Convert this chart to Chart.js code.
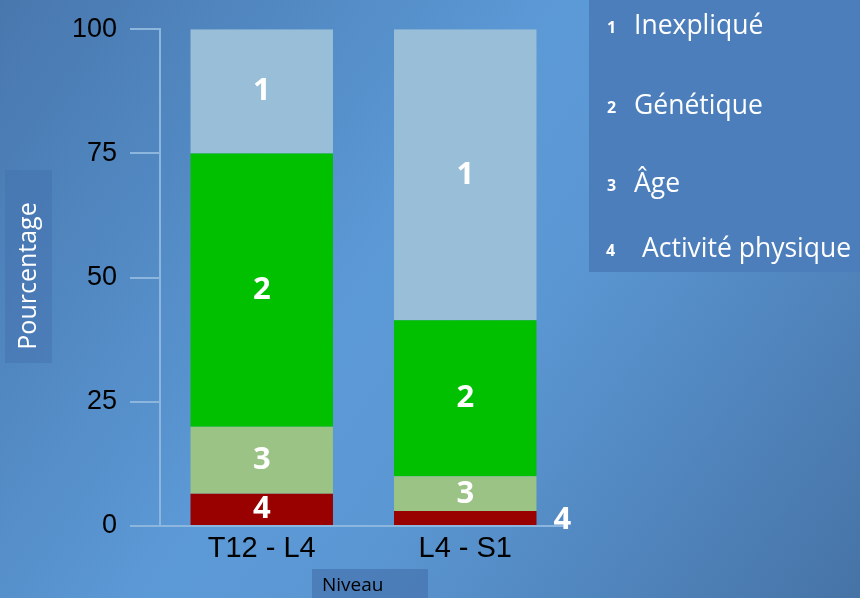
<!DOCTYPE html>
<html>
<head>
<meta charset="utf-8">
<script src="https://cdn.jsdelivr.net/npm/chart.js@4"></script>
<style>
html,body{margin:0;padding:0;background:#5a94cf;}
#wrap{width:860px;height:598px;position:relative;}
</style>
</head>
<body>
<div id="wrap"><canvas id="c" width="860" height="598"></canvas></div>
<script>
const categories = ['T12 - L4', 'L4 - S1'];
const seriesNames = ['Inexpliqué', 'Génétique', 'Âge', 'Activité physique'];
const seriesNumbers = ['1', '2', '3', '4'];
const inexplique = [25, 58.6];
const genetique = [55, 31.4];
const age = [13.5, 7];
const activite = [6.5, 3];
const yTicks = [0, 25, 50, 75, 100];
const xTitle = 'Niveau';
const yTitle = 'Pourcentage';

const axisColor = '#8cb6de';

const bgPlugin = {
  id: 'bg',
  beforeDraw(chart) {
    const ctx = chart.ctx;
    const g = ctx.createLinearGradient(0, 0, 860, 598);
    g.addColorStop(0, '#4877ad');
    g.addColorStop(0.45, '#5c9ad7');
    g.addColorStop(0.6, '#5a96d2');
    g.addColorStop(1, '#4673a6');
    ctx.save();
    ctx.fillStyle = g;
    ctx.fillRect(0, 0, chart.width, chart.height);
    ctx.fillStyle = 'rgba(70,115,175,0.55)';
    ctx.fillRect(5, 170, 47, 193);
    ctx.fillStyle = 'rgba(70,115,175,0.7)';
    ctx.fillRect(312, 569, 116, 29);
    ctx.fillStyle = '#4c7ebc';
    ctx.fillRect(589, 0, 271, 272);
    ctx.restore();
  },
  afterDraw(chart) {
    const ctx = chart.ctx;
    ctx.save();
    ctx.fillStyle = '#ffffff';
    ctx.font = '25px "Open Sans"';
    ctx.textAlign = 'center';
    ctx.textBaseline = 'middle';
    ctx.translate(29, 276);
    ctx.rotate(-Math.PI / 2);
    ctx.fillText(yTitle, 0, 0);
    ctx.restore();
    ctx.save();
    ctx.fillStyle = '#000000';
    ctx.font = '19px "Open Sans"';
    ctx.textAlign = 'left';
    ctx.textBaseline = 'middle';
    ctx.fillText(xTitle, 322, 586);
    const numX = [607, 607, 607, 606];
    const txtX = [634, 634, 634, 642];
    const ys = [26, 106, 184, 249];
    for (let i = 0; i < seriesNames.length; i++) {
      ctx.fillStyle = '#ffffff';
      ctx.font = 'bold 16px "Open Sans"';
      ctx.textAlign = 'left';
      ctx.textBaseline = 'middle';
      ctx.fillText(seriesNumbers[i], numX[i], ys[i] + 2);
      ctx.font = '26.5px "Open Sans"';
      ctx.fillText(seriesNames[i], txtX[i], ys[i]);
    }
    ctx.restore();
  },
  afterDatasetsDraw(chart) {
    const ctx = chart.ctx;
    ctx.save();
    ctx.fillStyle = '#ffffff';
    ctx.font = 'bold 31px "Open Sans"';
    ctx.textAlign = 'center';
    ctx.textBaseline = 'middle';
    chart.data.datasets.forEach((ds, di) => {
      const meta = chart.getDatasetMeta(di);
      meta.data.forEach((el) => {
        const top = Math.min(el.y, el.base);
        const bot = Math.max(el.y, el.base);
        const h = bot - top;
        if (h < 20) {
          ctx.fillText(ds.num, el.x + el.width / 2 + 26, (top + bot) / 2 + 2);
        } else {
          ctx.fillText(ds.num, el.x, (top + bot) / 2);
        }
      });
    });
    ctx.restore();
  }
};

new Chart(document.getElementById('c'), {
  type: 'bar',
  data: {
    labels: categories,
    datasets: [
      { label: seriesNames[3], num: seriesNumbers[3], data: activite, backgroundColor: '#990000' },
      { label: seriesNames[2], num: seriesNumbers[2], data: age, backgroundColor: '#9bc385' },
      { label: seriesNames[1], num: seriesNumbers[1], data: genetique, backgroundColor: '#00c000' },
      { label: seriesNames[0], num: seriesNumbers[0], data: inexplique, backgroundColor: '#99bfd8' }
    ]
  },
  options: {
    responsive: false,
    animation: false,
    devicePixelRatio: 1,
    layout: { padding: { top: 29, right: 293, left: 0, bottom: 0 } },
    datasets: { bar: { barPercentage: 0.7, categoryPercentage: 1, borderWidth: 0 } },
    plugins: { legend: { display: false }, tooltip: { enabled: false } },
    scales: {
      x: {
        stacked: true,
        afterFit(s) { s.height = 72; },
        grid: { display: false, drawTicks: false, tickLength: 0 },
        border: { display: true, color: axisColor, width: 2 },
        ticks: { color: '#000', padding: 6, font: { family: '"Liberation Sans", Arial', size: 29 } }
      },
      y: {
        stacked: true,
        min: 0, max: 100,
        afterFit(s) { s.width = 160; },
        afterBuildTicks(s) { s.ticks = yTicks.map(v => ({ value: v })); },
        grid: { drawOnChartArea: false, drawTicks: true, tickLength: 30, color: axisColor, lineWidth: 2 },
        border: { display: true, color: axisColor, width: 2 },
        ticks: { color: '#000', padding: 13, font: { family: '"Liberation Sans", Arial', size: 27 } }
      }
    }
  },
  plugins: [bgPlugin]
});
</script>
</body>
</html>
